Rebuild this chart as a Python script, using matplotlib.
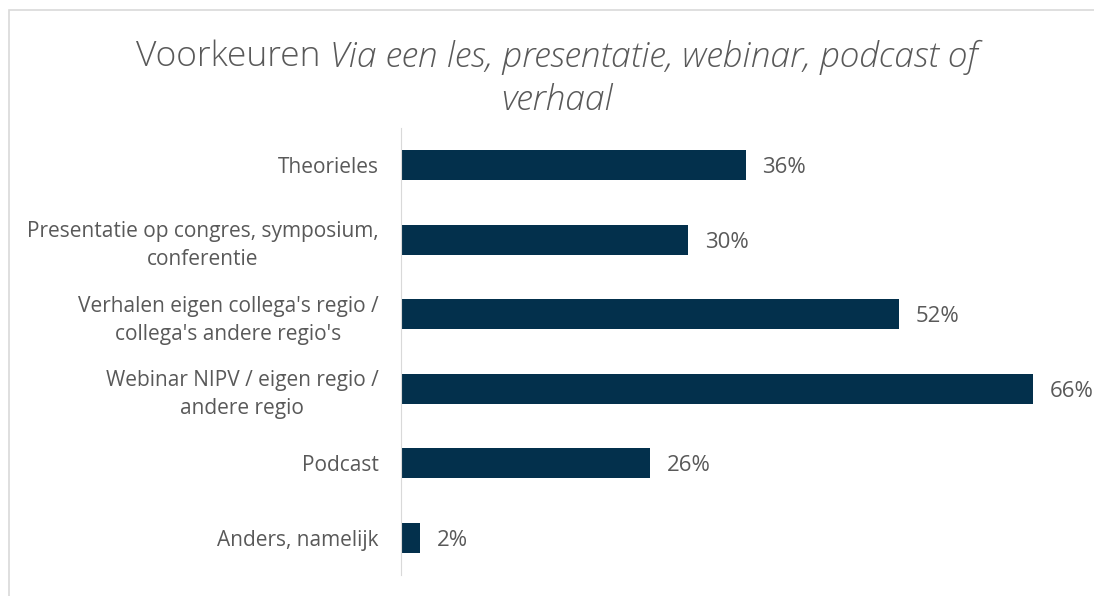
import matplotlib.pyplot as plt
from matplotlib.patches import Rectangle

categories = [
    "Theorieles",
    "Presentatie op congres, symposium,\nconferentie",
    "Verhalen eigen collega's regio /\ncollega's andere regio's",
    "Webinar NIPV / eigen regio /\nandere regio",
    "Podcast",
    "Anders, namelijk",
]
values = [36, 30, 52, 66, 26, 2]

bar_color = "#03304c"
text_color = "#595959"

plt.rcParams['font.family'] = ['Open Sans', 'DejaVu Sans']

fig = plt.figure(figsize=(10.94, 5.96), dpi=100)
ax = fig.add_axes([401 / 1094, 1 - 575 / 596, (1033 - 401) / 1094, (575 - 128) / 596])

ypos = list(range(len(categories)))
ax.barh(ypos, values, height=0.4, color=bar_color)
ax.set_ylim(len(categories) - 0.5, -0.5)
ax.set_xlim(0, 66)

ax.set_yticks(ypos)
ax.set_yticklabels(categories, fontsize=15, color=text_color, linespacing=1.45,
                   ha='right', multialignment='center')
ax.tick_params(axis='y', length=0, pad=16)
ax.set_xticks([])
for s in ['top', 'right', 'bottom']:
    ax.spines[s].set_visible(False)
ax.spines['left'].set_color('#d9d9d9')

for y, v in zip(ypos, values):
    ax.text(v + 1.75, y, f"{v}%", va='center_baseline', ha='left', fontsize=16,
            color=text_color, clip_on=False)

# title: regular + italic part
fig.canvas.draw()
r = fig.canvas.get_renderer()
ty = 1 - 57 / 596
t1 = fig.text(0, ty, "Voorkeuren ", fontsize=25.5, color=text_color,
              va='center', ha='left', fontweight='light')
t2 = fig.text(0, ty, "Via een les, presentatie, webinar, podcast of",
              fontsize=25.5, color=text_color, va='center', ha='left',
              style='italic', fontweight='light')
w1 = t1.get_window_extent(r).width
w2 = t2.get_window_extent(r).width
x0 = (557 - (w1 + w2) / 2) / 1094
t1.set_x(x0)
t2.set_x(x0 + w1 / 1094)
fig.text(557 / 1094, 1 - 101 / 596, "verhaal", fontsize=25.5, color=text_color,
         va='center', ha='center', style='italic', fontweight='light')

fig.patches.append(Rectangle((9 / 1094, -0.1), 1.2, 1 - 10 / 596 + 0.1,
                             transform=fig.transFigure, fill=False,
                             edgecolor='#d9d9d9', lw=1.2))

fig.savefig("out.png", dpi=100)
